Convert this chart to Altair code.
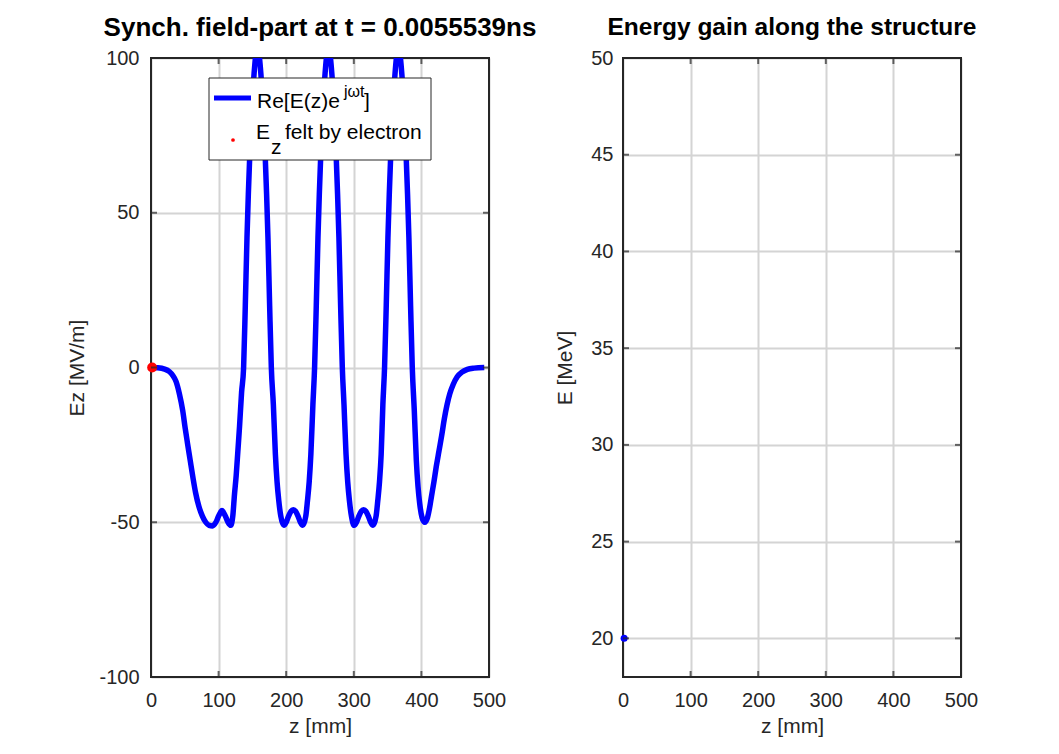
import altair as alt
import pandas as pd

# ---------------- data ----------------
z_mm = [0, 10, 20, 27, 32, 37, 42, 47, 50.5, 54, 58, 62, 66, 71, 76, 81, 86, 91, 96, 100, 105, 110, 114, 118,
        121, 123.5, 126, 128.5, 131, 134, 137,
        139.5, 142, 144, 146, 148, 150, 152.5, 155, 157.5, 160, 162.5, 165, 167, 169, 171, 173, 175.5, 178,
        181, 184, 186.5, 189, 192, 196.5, 200, 203.5, 207, 210.5, 214, 217.5, 221, 224.5, 229, 231.5, 234, 236.5, 239.5, 242,
        244.5, 247, 249, 251, 253, 255, 257.5, 260, 262.5, 265, 267.5, 270, 272, 274, 276, 278, 280.5, 283,
        285.5, 288.5, 291, 293.5, 296.5, 300.5, 304, 307.5, 311, 314.5, 318, 321.5, 325, 328.5, 333, 335.5, 338, 340.5, 343, 345.5,
        348, 350.5, 352.5, 354.5, 356.5, 358.5, 361, 363.5, 366, 368.5, 371, 373.5, 375.5, 377.5, 379.5, 381.5, 384, 386.5,
        389.5, 392.5, 395, 397.5, 401, 405, 409, 412, 415, 418.5, 422, 426, 430, 434, 438, 442, 447, 453, 460, 468, 478, 493]
ez_mv_m = [0, -0.1, -0.5, -1.3, -2.5, -4.5, -8.5, -14, -19.5, -24.5, -30, -35.5, -40.5, -45, -48, -50, -51, -51.2, -50, -48, -46.2, -48, -50, -51,
           -48, -41, -35, -27, -19, -8, 0,
           20, 42, 56, 68, 79, 87, 95, 101, 104, 101, 95, 87, 79, 68, 56, 42, 20, 0,
           -12, -28, -37, -43, -48, -51, -50, -48, -46.5, -46, -46.5, -48, -50, -51, -48, -43, -37, -28, -12, 0,
           20, 42, 56, 68, 79, 87, 95, 101, 104, 101, 95, 87, 79, 68, 56, 42, 20, 0,
           -12, -28, -37, -43, -48, -51, -50, -48, -46.5, -46, -46.5, -48, -50, -51, -48, -43, -37, -28, -12, 0,
           20, 42, 56, 68, 79, 87, 95, 101, 104, 101, 95, 87, 79, 68, 56, 42, 20, 0,
           -14, -30, -38.5, -44, -48.5, -50, -48.5, -45.5, -41.5, -37, -32, -27, -22, -16.5, -12, -8.5, -5.5, -3, -1.5, -0.6, -0.2, 0]

electron_z = [1.7]
electron_ez = [0.0]
electron_energy = [20.0]

x_ticks = [0, 100, 200, 300, 400, 500]
ez_ticks = [-100, -50, 0, 50, 100]
e_ticks = [20, 25, 30, 35, 40, 45, 50]

title_left = "Synch. field-part at t = 0.0055539ns"
title_right = "Energy gain along the structure"

# ---------------- styling ----------------
W, H = 338, 619
FONT = "Liberation Sans"
AX = "#262626"
GRID = "#d4d4d4"
BLUE = "#0000ff"
RED = "#ff0000"

curve = pd.DataFrame({"z": z_mm, "Ez": ez_mv_m})
elec_left = pd.DataFrame({"z": electron_z, "Ez": electron_ez})
elec_right = pd.DataFrame({"z": electron_z, "E": electron_energy})
xt_df = pd.DataFrame({"z": x_ticks})
ezt_df = pd.DataFrame({"Ez": ez_ticks})
et_df = pd.DataFrame({"E": e_ticks})
one = pd.DataFrame({"k": [0]})

label_expr = "datum.value < 0 ? '-' + abs(datum.value) : '' + datum.value"


def axis(title, values, lpad, tpad):
    return alt.Axis(values=values, title=title, grid=True, ticks=False, domain=False,
                    labelFont=FONT, labelFontSize=20, labelColor=AX, labelPadding=lpad,
                    titleFont=FONT, titleFontSize=21, titleFontWeight="normal", titleColor=AX,
                    titlePadding=tpad, gridColor=GRID, gridWidth=2, labelExpr=label_expr,
                    labelFlush=False, labelOverlap=False)


def xenc():
    return alt.X("z:Q", scale=alt.Scale(domain=[0, 500], nice=False, zero=False),
                 axis=axis("z [mm]", x_ticks, 13, 5))


def yenc_left():
    return alt.Y("Ez:Q", scale=alt.Scale(domain=[-100, 100], nice=False, zero=False),
                 axis=axis("Ez [MV/m]", ez_ticks, 12, 11))


def yenc_right():
    return alt.Y("E:Q", scale=alt.Scale(domain=[18, 50], nice=False, zero=False),
                 axis=axis("E [MeV]", e_ticks, 10, 15))


def frame():
    return alt.Chart(one).mark_rect(fillOpacity=0, stroke=AX, strokeWidth=2).encode(
        x=alt.value(0), x2=alt.value(W), y=alt.value(0), y2=alt.value(H))


def tick_layers(ydf, yenc):
    style = dict(size=6, thickness=2, color=AX)
    top = alt.Chart(xt_df).mark_tick(orient="vertical", **style).encode(x=xenc(), y=alt.value(3))
    bottom = alt.Chart(xt_df).mark_tick(orient="vertical", **style).encode(x=xenc(), y=alt.value(H - 3))
    left = alt.Chart(ydf).mark_tick(orient="horizontal", **style).encode(y=yenc(), x=alt.value(3))
    right = alt.Chart(ydf).mark_tick(orient="horizontal", **style).encode(y=yenc(), x=alt.value(W - 3))
    return [top, bottom, left, right]


def ltext(txt, x, y, size):
    return alt.Chart(one).mark_text(text=txt, align="left", baseline="alphabetic", fontSize=size,
                                    font=FONT, color="black").encode(x=alt.value(x), y=alt.value(y))


# ---------------- left panel ----------------
line = alt.Chart(curve).mark_line(color=BLUE, strokeWidth=5.5, clip=True, interpolate="monotone").encode(
    x=xenc(), y=yenc_left())
dot = alt.Chart(elec_left).mark_circle(color=RED, size=100, opacity=1).encode(x=xenc(), y=yenc_left())

leg_box = alt.Chart(one).mark_rect(fill="white", stroke=AX, strokeWidth=1).encode(
    x=alt.value(58), x2=alt.value(280), y=alt.value(20), y2=alt.value(102))
leg_line = alt.Chart(one).mark_rule(color=BLUE, strokeWidth=5).encode(
    x=alt.value(63), x2=alt.value(100), y=alt.value(40))
leg_dot = alt.Chart(one).mark_circle(color=RED, size=14, opacity=1).encode(
    x=alt.value(82), y=alt.value(82))

legend = [leg_box, leg_line, leg_dot,
          ltext("Re[E(z)e", 106, 50, 21),
          ltext("jωt", 193, 39, 16),
          ltext("]", 213, 50, 21),
          ltext("E", 105, 81, 21),
          ltext("z", 120, 96, 21),
          ltext("felt by electron", 134, 81, 21)]

left_chart = alt.layer(frame(), line, dot, *legend, *tick_layers(ezt_df, yenc_left)).properties(
    width=W, height=H,
    title=alt.TitleParams(title_left, font=FONT, fontSize=26, fontWeight="bold", color="black",
                          anchor="middle", offset=7))

# ---------------- right panel ----------------
edot = alt.Chart(elec_right).mark_circle(color=BLUE, size=50, opacity=1).encode(x=xenc(), y=yenc_right())

right_chart = alt.layer(frame(), edot, *tick_layers(et_df, yenc_right)).properties(
    width=W, height=H,
    title=alt.TitleParams(title_right, font=FONT, fontSize=24.5, fontWeight="bold", color="black",
                          anchor="middle", offset=8))

chart = alt.hconcat(left_chart, right_chart, spacing=134, bounds="flush").properties(
    padding={"left": 58, "top": 6, "right": 5, "bottom": 5},
    background="white",
).configure_view(stroke=None)

chart.save("out.html", embed_options={"renderer": "svg", "actions": False})
